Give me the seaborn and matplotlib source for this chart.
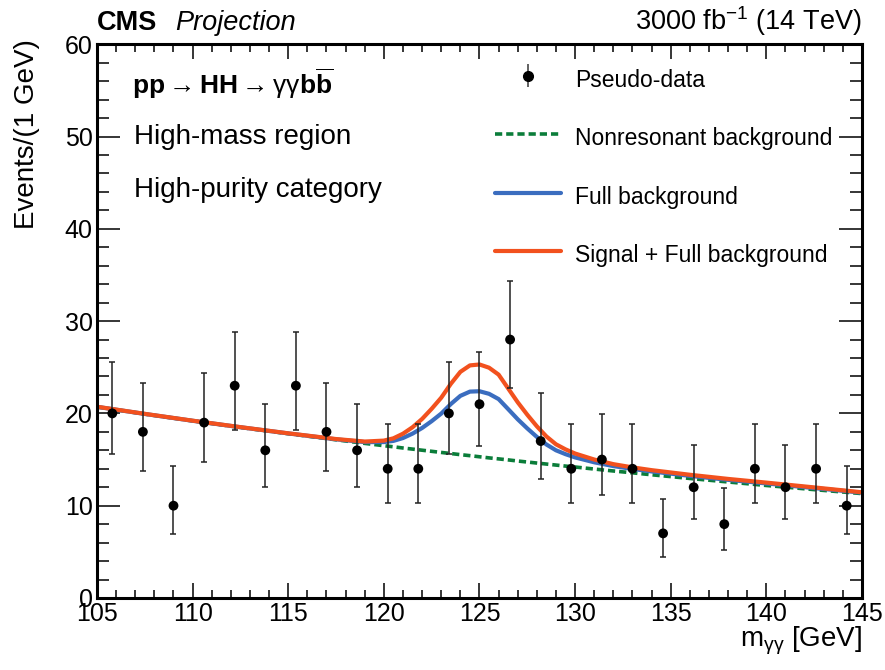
import numpy as np
import pandas as pd
import matplotlib
matplotlib.use("Agg")
import matplotlib.pyplot as plt
from matplotlib.ticker import MultipleLocator
from matplotlib.lines import Line2D
import seaborn as sns

# ---------------- data ----------------
bin_centers = [105.8, 107.4, 109.0, 110.6, 112.2, 113.8, 115.4, 117.0, 118.6,
               120.2, 121.8, 123.4, 125.0, 126.6, 128.2, 129.8, 131.4, 133.0,
               134.6, 136.2, 137.8, 139.4, 141.0, 142.6, 144.2]
counts = [20, 18, 10, 19, 23, 16, 23, 18, 16, 14, 14, 20, 21, 28, 17, 14, 15,
          14, 7, 12, 8, 14, 12, 14, 10]
err_low = [4.43, 4.22, 3.11, 4.32, 4.77, 3.96, 4.77, 4.22, 3.96, 3.70, 3.70,
           4.43, 4.55, 5.26, 4.09, 3.70, 3.83, 3.70, 2.58, 3.41, 2.77, 3.70,
           3.41, 3.70, 3.11]
err_high = [5.53, 5.30, 4.26, 5.41, 5.86, 5.06, 5.86, 5.30, 5.06, 4.82, 4.82,
            5.53, 5.64, 6.34, 5.18, 4.82, 4.95, 4.82, 3.77, 4.56, 3.94, 4.82,
            4.56, 4.82, 4.26]

curve_mass = [105, 107.5, 110, 112.5, 115, 117.5, 119, 120, 120.5, 121, 121.5,
              122, 122.5, 123, 123.5, 124, 124.5, 125, 125.5, 126, 126.5, 127,
              127.5, 128, 128.5, 129, 129.5, 130, 131, 132, 133, 134, 136, 138,
              140, 142.5, 145]
nonres_bkg = [20.70, 19.93, 19.19, 18.48, 17.80, 17.14, 16.75, 16.50, 16.38,
              16.25, 16.13, 16.01, 15.89, 15.77, 15.65, 15.53, 15.42, 15.30,
              15.18, 15.07, 14.96, 14.84, 14.73, 14.62, 14.51, 14.40, 14.29,
              14.19, 13.97, 13.76, 13.56, 13.35, 12.95, 12.57, 12.19, 11.74,
              11.31]
full_bkg = [20.71, 19.94, 19.20, 18.50, 17.83, 17.19, 16.89, 16.89, 17.02,
            17.33, 17.81, 18.42, 19.16, 19.98, 21.01, 21.90, 22.36, 22.40,
            22.12, 21.55, 20.46, 19.36, 18.37, 17.45, 16.63, 16.00, 15.58,
            15.23, 14.70, 14.29, 13.98, 13.71, 13.23, 12.80, 12.41, 11.91,
            11.41]
sig_plus_bkg = [20.72, 19.95, 19.21, 18.51, 17.84, 17.22, 16.95, 17.05, 17.30,
                17.80, 18.50, 19.40, 20.50, 21.70, 23.20, 24.50, 25.20, 25.30,
                24.95, 24.20, 22.70, 21.20, 19.85, 18.60, 17.50, 16.65, 16.10,
                15.65, 15.00, 14.50, 14.15, 13.85, 13.35, 12.90, 12.50, 11.98,
                11.45]

legend_labels = ["Pseudo-data", "Nonresonant background", "Full background",
                 "Signal + Full background"]

# ---------------- style ----------------
sns.set_theme(style="ticks")
FONT = "Liberation Sans"
plt.rcParams["font.family"] = [FONT, "DejaVu Sans"]
plt.rcParams["mathtext.fontset"] = "custom"
plt.rcParams["mathtext.rm"] = FONT
plt.rcParams["mathtext.it"] = FONT + ":italic"
plt.rcParams["mathtext.bf"] = FONT + ":bold"
plt.rcParams["text.color"] = "black"
plt.rcParams["axes.labelcolor"] = "black"

GREEN = "#0B7D3A"
BLUE = "#3B6DBF"
RED = "#F2511E"

fig = plt.figure(figsize=(8.85, 6.70), dpi=100)
ax = fig.add_axes([0.1096, 0.1075, 0.974 - 0.1096, 0.934 - 0.1075])

df_pts = pd.DataFrame({"m": bin_centers, "n": counts})
df_curves = pd.DataFrame({"m": curve_mass, "nonres": nonres_bkg,
                          "full": full_bkg, "sb": sig_plus_bkg})

ax.errorbar(df_pts["m"], df_pts["n"], yerr=[err_low, err_high], fmt="none",
            ecolor="#222222", elinewidth=1.1, capsize=2.3, capthick=1.1,
            zorder=3)
sns.scatterplot(data=df_pts, x="m", y="n", ax=ax, color="black", s=50,
                edgecolor="none", zorder=4, legend=False)

sns.lineplot(data=df_curves, x="m", y="nonres", ax=ax, color=GREEN, lw=2.6,
             zorder=2, legend=False)
ax.lines[-1].set_dashes([2.0, 1.1])
sns.lineplot(data=df_curves, x="m", y="full", ax=ax, color=BLUE, lw=3.0,
             zorder=2.2, legend=False)
sns.lineplot(data=df_curves, x="m", y="sb", ax=ax, color=RED, lw=3.0,
             zorder=2.3, legend=False)
for ln in ax.lines:
    ln.set_solid_joinstyle("round")
    ln.set_solid_capstyle("butt")

ax.set_xlim(105, 145)
ax.set_ylim(0, 60)
ax.xaxis.set_major_locator(MultipleLocator(5))
ax.xaxis.set_minor_locator(MultipleLocator(1))
ax.yaxis.set_major_locator(MultipleLocator(10))
ax.yaxis.set_minor_locator(MultipleLocator(2))
ax.tick_params(axis="both", which="both", direction="in", top=True, right=True,
               colors="black", width=1.1, labelsize=18, pad=3)
ax.tick_params(axis="x", which="major", length=11)
ax.tick_params(axis="x", which="minor", length=5.5)
ax.tick_params(axis="y", which="major", length=16.5)
ax.tick_params(axis="y", which="minor", length=8.5)
for s in ax.spines.values():
    s.set_linewidth(2.2)
    s.set_color("black")
    s.set_visible(True)

ax.set_xlabel(r"$\mathrm{m}_{\mathrm{γγ}}$ [GeV]", fontsize=20, loc="right")
ax.set_ylabel("Events/(1 GeV)", fontsize=20, loc="top")
ax.yaxis.set_label_coords(-0.074, 1.01)
ax.xaxis.set_label_coords(1.0, -0.048)
ax.xaxis.label.set_va("top")

# header
fig.text(0.1096, 0.955, "CMS", fontsize=19.5, fontweight="bold", ha="left",
         va="baseline")
fig.text(0.1975, 0.955, "Projection", fontsize=19.5, fontstyle="italic",
         ha="left", va="baseline")
fig.text(0.974, 0.955, r"3000 fb$^{-1}$ (14 TeV)", fontsize=19.5, ha="right",
         va="baseline")

# annotations
ax.text(0.046, 0.928,
        r"$\mathbf{pp}\rightarrow\mathbf{HH}\rightarrow\mathrm{γγ}\mathbf{b}\overline{\mathbf{b}}$",
        transform=ax.transAxes, fontsize=19, ha="left", va="center")
ax.text(0.049, 0.832, "High-mass region", transform=ax.transAxes, fontsize=20,
        ha="left", va="center")
ax.text(0.049, 0.736, "High-purity category", transform=ax.transAxes,
        fontsize=20, ha="left", va="center")

# legend
h_green = Line2D([], [], color=GREEN, lw=2.6, dashes=[2.0, 1.1])
h_blue = Line2D([], [], color=BLUE, lw=3.0)
h_red = Line2D([], [], color=RED, lw=3.0)
h_data = ax.errorbar([], [], yerr=[[], []], fmt="o", color="black", ms=7,
                     ecolor="#555555", elinewidth=1.3, capsize=0)
leg = ax.legend([h_data, h_green, h_blue, h_red], legend_labels,
                loc="upper left", bbox_to_anchor=(0.508, 0.98), frameon=False,
                fontsize=16.5, handlelength=2.9, handletextpad=0.6,
                labelspacing=1.27, borderaxespad=0, handleheight=1.6)

fig.savefig("out.png", dpi=100)
